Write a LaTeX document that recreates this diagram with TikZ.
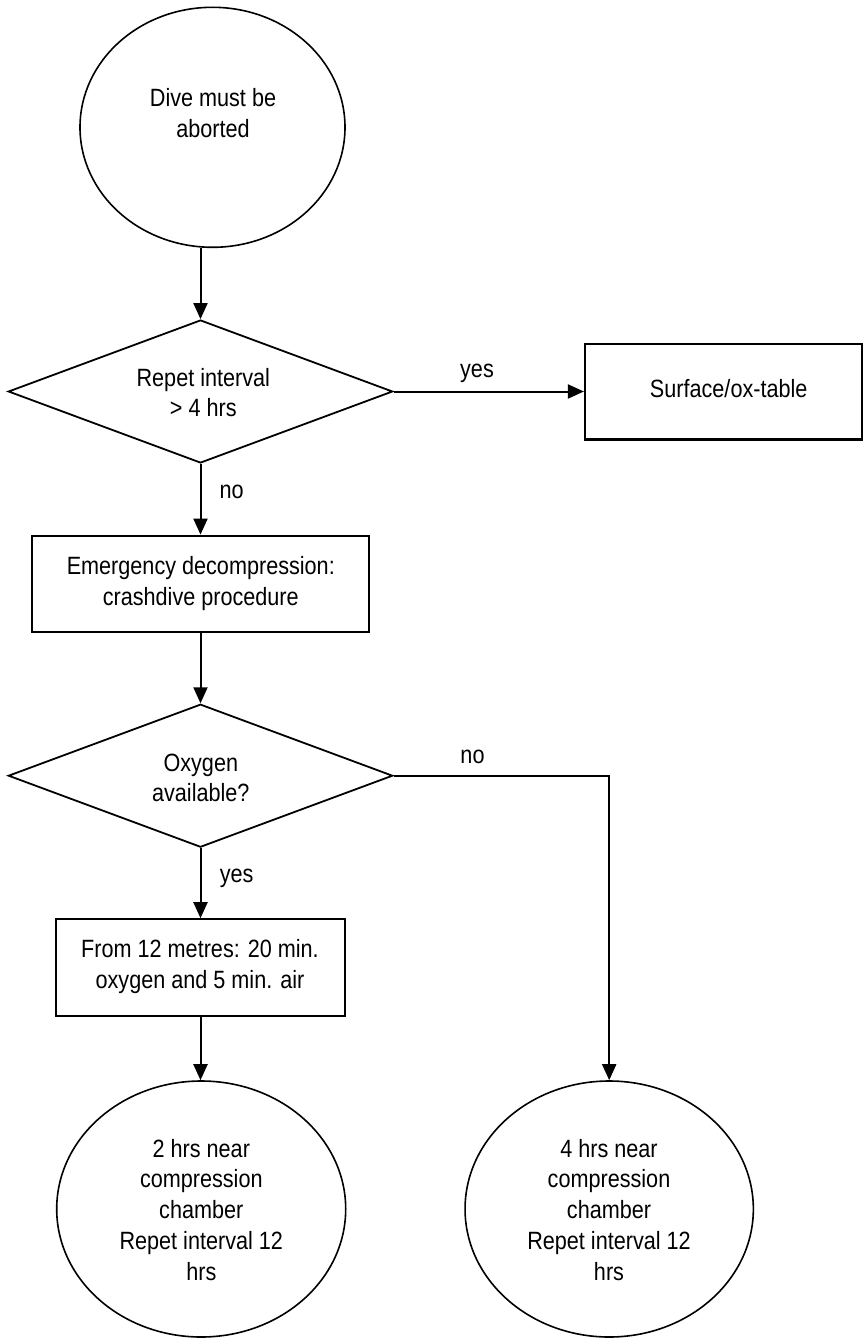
\documentclass[tikz,border=0pt]{standalone}
\usepackage{fontspec}
\setmainfont{Liberation Sans}[FakeStretch=0.865]
\usetikzlibrary{shapes.geometric,arrows.meta}
\begin{document}
\begin{tikzpicture}[x=1pt,y=-1pt,
  every node/.style={font=\fontsize{25}{30.7}\selectfont},
  ell/.style={ellipse,draw,line width=1.6pt,inner sep=0pt},
  dia/.style={diamond,draw,line width=1.8pt,inner sep=0pt,minimum width=384.4pt,minimum height=143pt},
  box/.style={rectangle,draw,line width=2.2pt,inner sep=0pt},
  txt/.style={align=center,anchor=base,inner sep=0pt},
  lab/.style={anchor=base,inner sep=0pt},
  arr/.style={line width=2pt,-{Triangle[length=16pt,width=14pt]}}]
\useasboundingbox (0,0) rectangle (863,1338);
% shapes
\node[ell,minimum width=265pt,minimum height=240pt] (start) at (212.5,127.3) {};
\node[dia] (d1) at (200.5,391.5) {};
\node[box,minimum width=277pt,minimum height=95.5pt] (surf) at (723.5,391.7) {};
\node[box,minimum width=336.7pt,minimum height=96pt] (emerg) at (200.7,583.7) {};
\node[dia] (d2) at (200.5,775.7) {};
\node[box,minimum width=289pt,minimum height=96.4pt] (from) at (200.5,967.5) {};
\node[ell,minimum width=289pt,minimum height=256pt] (end1) at (201.2,1209) {};
\node[ell,minimum width=288.3pt,minimum height=256pt] (end2) at (609.2,1209) {};
% texts (anchor base = baseline of last line)
\node[txt] (tstart) at (213,137) {Dive must be\\aborted};
\node[txt] (td1) at (203.3,416.7) {Repet interval\\> 4 hrs};
\node[lab] (tsurf) at (728.7,397) {Surface/ox-table};
\node[txt] (temerg) at (200.8,605) {Emergency decompression:\\crashdive procedure};
\node[txt] (td2) at (200.8,801.7) {Oxygen\\available?};
\node[txt] (tfrom) at (200,988.3) {From 12 metres: 20 min.\\oxygen and 5 min. air};
\node[txt] (tend1) at (201.3,1280) {2 hrs near\\compression\\chamber\\Repet interval 12\\hrs};
\node[txt] (tend2) at (609,1280) {4 hrs near\\compression\\chamber\\Repet interval 12\\hrs};
% connector labels
\node[lab] (lyes1) at (477,377.7) {yes};
\node[lab] (lno1) at (231.7,498.3) {no};
\node[lab] (lno2) at (472.5,763.3) {no};
\node[lab] (lyes2) at (236.7,882.7) {yes};
% connectors
\draw[arr] (start.south -| d1.north) -- (d1.north);
\draw[arr] (d1.east) -- (d1.east -| surf.west);
\draw[arr] (d1.south) -- (d1.south |- emerg.north);
\draw[arr] (emerg.south -| d2.north) -- (d2.north);
\draw[arr] (d2.east) -| (end2.north);
\draw[arr] (d2.south) -- (d2.south |- from.north);
\draw[arr] (from.south) -- (from.south |- end1.north);
\end{tikzpicture}
\end{document}
